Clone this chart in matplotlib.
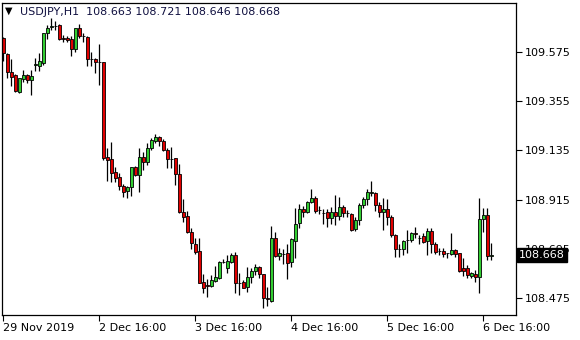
import numpy as np
import matplotlib.pyplot as plt

# USDJPY H1 candles, 29 Nov 2019 16:00 onwards
opens = [109.638, 109.565, 109.487, 109.472, 109.397, 109.454, 109.472, 109.450, 109.519, 109.514,
         109.524, 109.659, 109.687, 109.691, 109.696, 109.637, 109.639, 109.633, 109.587, 109.682,
         109.647, 109.641, 109.544, 109.544, 109.529, 109.529, 109.104, 109.096, 109.040, 109.015,
         108.976, 108.953, 108.970, 109.059, 109.025, 109.104, 109.084, 109.147, 109.177, 109.194,
         109.177, 109.137, 109.096, 109.102, 109.028, 108.858, 108.842, 108.769, 108.716, 108.685,
         108.545, 108.531, 108.530, 108.552, 108.566, 108.637, 108.608, 108.637, 108.667, 108.543,
         108.545, 108.523, 108.570, 108.597, 108.612, 108.581, 108.475, 108.463, 108.742, 108.664,
         108.672, 108.675, 108.634, 108.731, 108.809, 108.871, 108.861, 108.903, 108.921, 108.868,
         108.856, 108.858, 108.831, 108.858, 108.843, 108.880, 108.854, 108.849, 108.782, 108.824,
         108.891, 108.916, 108.944, 108.943, 108.891, 108.861, 108.871, 108.838, 108.757, 108.693,
         108.693, 108.734, 108.734, 108.764, 108.745, 108.752, 108.731, 108.775, 108.716, 108.686,
         108.686, 108.675, 108.672, 108.690, 108.675, 108.608, 108.608, 108.573, 108.582, 108.567,
         108.827, 108.846, 108.663]
highs = [109.643, 109.570, 109.544, 109.476, 109.460, 109.494, 109.476, 109.494, 109.547, 109.569,
         109.660, 109.696, 109.726, 109.714, 109.700, 109.651, 109.648, 109.648, 109.684, 109.699,
         109.659, 109.647, 109.574, 109.550, 109.609, 109.530, 109.144, 109.174, 109.062, 109.034,
         108.983, 108.976, 109.061, 109.065, 109.144, 109.129, 109.167, 109.192, 109.207, 109.201,
         109.186, 109.147, 109.150, 109.103, 109.073, 108.918, 108.864, 108.787, 108.742, 108.745,
         108.581, 108.560, 108.578, 108.618, 108.640, 108.648, 108.667, 108.675, 108.679, 108.585,
         108.555, 108.612, 108.609, 108.627, 108.618, 108.582, 108.525, 108.797, 108.771, 108.697,
         108.693, 108.716, 108.742, 108.876, 108.895, 108.886, 108.910, 108.961, 108.931, 108.886,
         108.871, 108.871, 108.883, 108.935, 108.928, 108.891, 108.868, 108.856, 108.838, 108.898,
         108.928, 108.961, 108.998, 108.947, 108.903, 108.921, 108.916, 108.846, 108.759, 108.716,
         108.734, 108.779, 108.771, 108.794, 108.757, 108.764, 108.787, 108.787, 108.727, 108.700,
         108.697, 108.677, 108.764, 108.695, 108.677, 108.652, 108.622, 108.592, 108.600, 108.921,
         108.876, 108.876, 108.721]
lows = [109.535, 109.460, 109.423, 109.398, 109.392, 109.442, 109.438, 109.383, 109.490, 109.490,
        109.517, 109.633, 109.673, 109.673, 109.629, 109.620, 109.621, 109.558, 109.576, 109.636,
        109.621, 109.514, 109.514, 109.480, 109.427, 109.094, 108.999, 108.995, 108.995, 108.958,
        108.928, 108.922, 108.931, 109.020, 108.950, 109.047, 109.070, 109.137, 109.167, 109.156,
        109.132, 109.058, 109.058, 108.982, 108.854, 108.813, 108.765, 108.694, 108.670, 108.541,
        108.496, 108.481, 108.525, 108.548, 108.560, 108.630, 108.585, 108.630, 108.496, 108.488,
        108.518, 108.503, 108.541, 108.578, 108.563, 108.429, 108.439, 108.458, 108.660, 108.645,
        108.626, 108.558, 108.615, 108.652, 108.787, 108.836, 108.856, 108.901, 108.854, 108.851,
        108.806, 108.794, 108.806, 108.801, 108.824, 108.838, 108.838, 108.774, 108.776, 108.801,
        108.879, 108.891, 108.931, 108.865, 108.838, 108.779, 108.801, 108.749, 108.660, 108.657,
        108.667, 108.675, 108.727, 108.742, 108.716, 108.722, 108.667, 108.677, 108.672, 108.667,
        108.660, 108.652, 108.667, 108.657, 108.592, 108.573, 108.563, 108.563, 108.548, 108.496,
        108.771, 108.645, 108.646]
closes = [109.570, 109.487, 109.465, 109.401, 109.460, 109.472, 109.448, 109.468, 109.521, 109.535,
          109.659, 109.684, 109.689, 109.693, 109.633, 109.635, 109.627, 109.587, 109.681, 109.647,
          109.645, 109.542, 109.542, 109.529, 109.528, 109.100, 109.092, 109.032, 109.010, 108.976,
          108.950, 108.971, 109.059, 109.025, 109.104, 109.084, 109.144, 109.180, 109.194, 109.177,
          109.137, 109.095, 109.095, 109.028, 108.858, 108.838, 108.769, 108.720, 108.682, 108.543,
          108.521, 108.529, 108.555, 108.567, 108.637, 108.638, 108.640, 108.667, 108.541, 108.544,
          108.521, 108.570, 108.597, 108.612, 108.582, 108.474, 108.472, 108.742, 108.664, 108.675,
          108.671, 108.633, 108.737, 108.806, 108.871, 108.861, 108.903, 108.921, 108.865, 108.867,
          108.857, 108.831, 108.858, 108.843, 108.880, 108.854, 108.853, 108.779, 108.824, 108.891,
          108.916, 108.948, 108.947, 108.891, 108.861, 108.871, 108.838, 108.757, 108.693, 108.692,
          108.731, 108.733, 108.764, 108.763, 108.745, 108.727, 108.775, 108.716, 108.682, 108.684,
          108.672, 108.674, 108.690, 108.672, 108.597, 108.597, 108.578, 108.585, 108.567, 108.827,
          108.846, 108.663, 108.668]

x_ticks = [0, 24, 48, 72, 96, 120]
x_labels = ['29 Nov 2019', '2 Dec 16:00', '3 Dec 16:00', '4 Dec 16:00', '5 Dec 16:00', '6 Dec 16:00']
y_ticks = [108.475, 108.695, 108.915, 109.135, 109.355, 109.575]
last_price = 108.668

o = np.array(opens)
h = np.array(highs)
l = np.array(lows)
c = np.array(closes)
x = np.arange(len(o))

fig = plt.figure(figsize=(5.8, 3.4), dpi=100)
ax = fig.add_axes([2 / 580, 1 - 315 / 340, 514 / 580, 312 / 340])

# wicks
ax.vlines(x, l, h, color='black', lw=0.9, zorder=1)

# bodies
up = c >= o
colors = np.where(up, '#32cd32', '#e00000')
ax.bar(x, np.abs(c - o), bottom=np.minimum(o, c), width=0.75, color=colors,
       edgecolor='black', linewidth=0.6, zorder=2)

ax.set_xlim(-0.25, 128.25)
ax.set_ylim(108.399, 109.794)

ax.yaxis.tick_right()
ax.set_yticks(y_ticks)
ax.set_yticklabels([f'{v:.3f}' for v in y_ticks])
ax.set_xticks(x_ticks)
ax.set_xticklabels(x_labels, ha='left')
ax.tick_params(axis='both', direction='out', length=4, width=0.8, labelsize=8, color='black')
ax.tick_params(axis='y', pad=2)
ax.tick_params(axis='x', pad=2)
for s in ax.spines.values():
    s.set_color('black')
    s.set_linewidth(0.9)

# current price box
ax.annotate(f'{last_price:.3f}', xy=(1, last_price), xycoords=('axes fraction', 'data'),
            xytext=(2, 0), textcoords='offset points', va='center', ha='left',
            fontsize=8, color='white',
            bbox=dict(boxstyle='square,pad=0.2', fc='black', ec='black'))

# header
fig.text(5 / 580, 1 - 11 / 340, '\u25bc', fontsize=7, va='center', ha='left')
fig.text(20 / 580, 1 - 12 / 340, 'USDJPY,H1  108.663 108.721 108.646 108.668',
         fontsize=8, va='center', ha='left', color='#101040')

fig.savefig('out.png', dpi=100)
